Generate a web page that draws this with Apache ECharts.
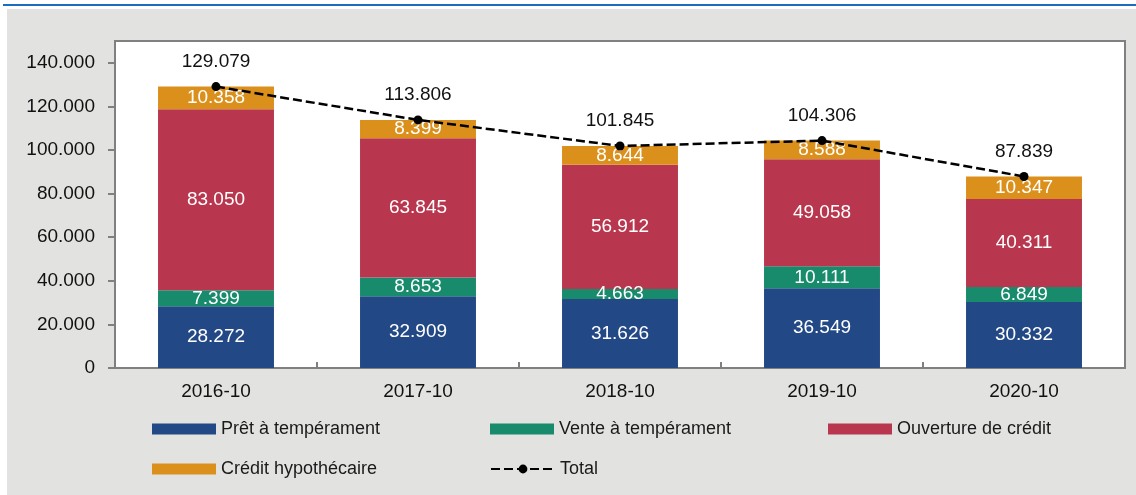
<!DOCTYPE html>
<html>
<head>
<meta charset="utf-8">
<script src="https://cdn.jsdelivr.net/npm/echarts@6/dist/echarts.min.js"></script>
<style>
  html, body { margin: 0; padding: 0; background: #fff; }
  #chart { width: 1136px; height: 495px; }
</style>
</head>
<body>
<div id="chart"></div>
<script>
// data
const periods = ['2016-10', '2017-10', '2018-10', '2019-10', '2020-10'];
const pret = [28272, 32909, 31626, 36549, 30332];
const vente = [7399, 8653, 4663, 10111, 6849];
const ouverture = [83050, 63845, 56912, 49058, 40311];
const hypothecaire = [10358, 8399, 8644, 8588, 10347];
const totals = [129079, 113806, 101845, 104306, 87839];
const yTicks = [0, 20000, 40000, 60000, 80000, 100000, 120000, 140000];

const FONT = '"Liberation Sans", Arial, sans-serif';
const fmt = v => String(v).replace(/\B(?=(\d{3})+(?!\d))/g, '.');

const chart = echarts.init(document.getElementById('chart'));

function barSeries(name, data, color) {
  return {
    name: name,
    type: 'bar',
    stack: 'total',
    barWidth: '57.4%',
    data: data,
    itemStyle: { color: color },
    label: {
      show: true,
      position: 'inside',
      color: '#fff',
      fontFamily: FONT,
      fontSize: 19,
      formatter: p => fmt(p.value)
    }
  };
}

const legendText = {
  color: '#1a1a1a',
  fontFamily: FONT,
  fontSize: 18,
  width: 269,
  lineHeight: 18
};

function legendAt(left, top, items) {
  return {
    left: left,
    top: top,
    itemWidth: 64,
    itemHeight: 11,
    itemGap: 0,
    textStyle: legendText,
    data: items
  };
}

chart.setOption({
  backgroundColor: '#fff',
  animation: false,
  graphic: [
    { type: 'rect', z: -100, shape: { x: 7, y: 9, width: 1129, height: 486 }, style: { fill: '#e2e2e1' } },
    { type: 'rect', z: -100, shape: { x: 3, y: 4, width: 1133, height: 2 }, style: { fill: '#1a6ebd' } }
  ],
  grid: {
    left: 115,
    right: 11,
    top: 41,
    bottom: 127,
    show: true,
    backgroundColor: '#fff',
    borderColor: '#808080',
    borderWidth: 2
  },
  legend: [
    legendAt(147, 415, [
      { name: 'Prêt à tempérament', icon: 'rect' },
      { name: 'Vente à tempérament', icon: 'rect' }
    ]),
    legendAt(823, 415, [
      { name: 'Ouverture de crédit', icon: 'rect' }
    ]),
    legendAt(147, 455, [
      { name: 'Crédit hypothécaire', icon: 'rect' },
      { name: 'Total' }
    ])
  ],
  xAxis: {
    type: 'category',
    data: periods,
    axisLine: { lineStyle: { color: '#808080', width: 2 } },
    axisTick: { show: true, inside: true, length: 6, lineStyle: { color: '#808080', width: 2 } },
    axisLabel: { color: '#111', fontFamily: FONT, fontSize: 19, margin: 14 }
  },
  yAxis: {
    type: 'value',
    min: 0,
    max: 150000,
    interval: 20000,
    splitLine: { show: false },
    axisLine: { show: true, lineStyle: { color: '#808080', width: 2 } },
    axisTick: { show: true, length: 7, customValues: yTicks, lineStyle: { color: '#808080', width: 2 } },
    axisLabel: {
      color: '#111',
      fontFamily: FONT,
      fontSize: 19,
      margin: 20,
      customValues: yTicks,
      formatter: v => fmt(v)
    }
  },
  series: [
    barSeries('Prêt à tempérament', pret, '#234886'),
    barSeries('Vente à tempérament', vente, '#178b6b'),
    barSeries('Ouverture de crédit', ouverture, '#b9374e'),
    barSeries('Crédit hypothécaire', hypothecaire, '#dc901c'),
    {
      name: 'Total',
      type: 'line',
      data: totals,
      z: 5,
      symbol: 'circle',
      symbolSize: 9,
      itemStyle: { color: '#000' },
      lineStyle: { color: '#000', width: 2.5, type: [9, 4] },
      label: {
        show: true,
        position: 'top',
        distance: 11,
        color: '#111',
        fontFamily: FONT,
        fontSize: 19,
        formatter: p => fmt(p.value)
      }
    }
  ]
});
</script>
</body>
</html>
